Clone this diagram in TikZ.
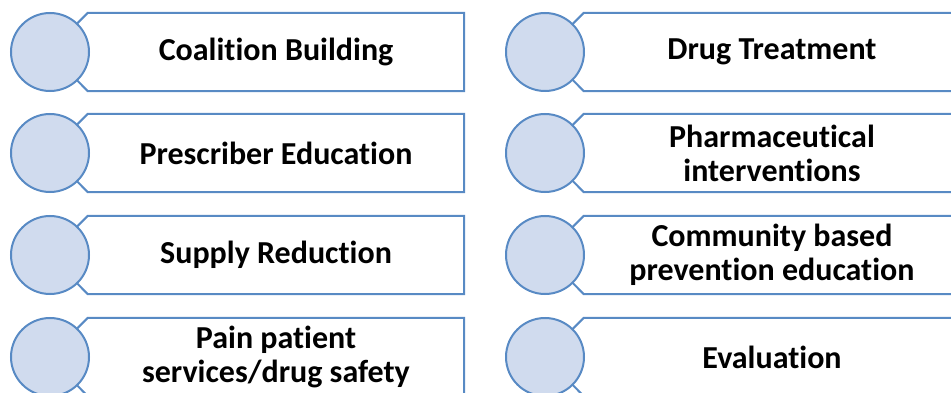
\documentclass[tikz,border=0pt]{standalone}
\usepackage{fontspec}
\setsansfont{Carlito}[Ligatures=NoCommon]
\usetikzlibrary{positioning}

\definecolor{ringblue}{RGB}{88,138,196}
\definecolor{dotfill}{RGB}{208,219,238}

\tikzset{
  dot/.style={circle, draw=ringblue, fill=dotfill, line width=2pt,
              minimum size=78pt, inner sep=0pt},
  label/.style={minimum width=376pt, minimum height=78pt, inner sep=0pt,
                align=center, font=\sffamily\bfseries\fontsize{32}{34}\selectfont},
  tag/.style={draw=ringblue, line width=2pt},
}

\begin{document}
\begin{tikzpicture}[x=1pt, y=-1pt]

    \useasboundingbox (0,0) rectangle (951,393);
    \clip (0,0) rectangle (951,393);

    % Define nodes
    \node[label] (coal)  at (276,52)  {Coalition Building};
    \node[label] (presc) at (276,153) {Prescriber Education};
    \node[label] (suppl) at (276,255) {Supply Reduction};
    \node[label] (pain)  at (276,357) {Pain patient\\services/drug safety};

    \node[label] (treat) at (772,52)  {Drug Treatment};
    \node[label] (pharm) at (772,153) {Pharmaceutical\\interventions};
    \node[label] (comm)  at (772,255) {Community based\\prevention education};
    \node[label] (eval)  at (772,357) {Evaluation};

    % Tags
    \foreach \n in {coal,presc,suppl,pain,treat,pharm,comm,eval}
      \draw[tag] (\n.south west) -- (\n.south east) -- (\n.north east)
                 -- (\n.north west) -- ++(-39,39) -- cycle;

    % Circles
    \node[dot] (coal-c)  at (50,52)  {};
    \node[dot] (presc-c) at (50,153) {};
    \node[dot] (suppl-c) at (50,255) {};
    \node[dot] (pain-c)  at (50,357) {};

    \node[dot] (treat-c) at (545,52)  {};
    \node[dot] (pharm-c) at (545,153) {};
    \node[dot] (comm-c)  at (545,255) {};
    \node[dot] (eval-c)  at (545,357) {};

\end{tikzpicture}
\end{document}
